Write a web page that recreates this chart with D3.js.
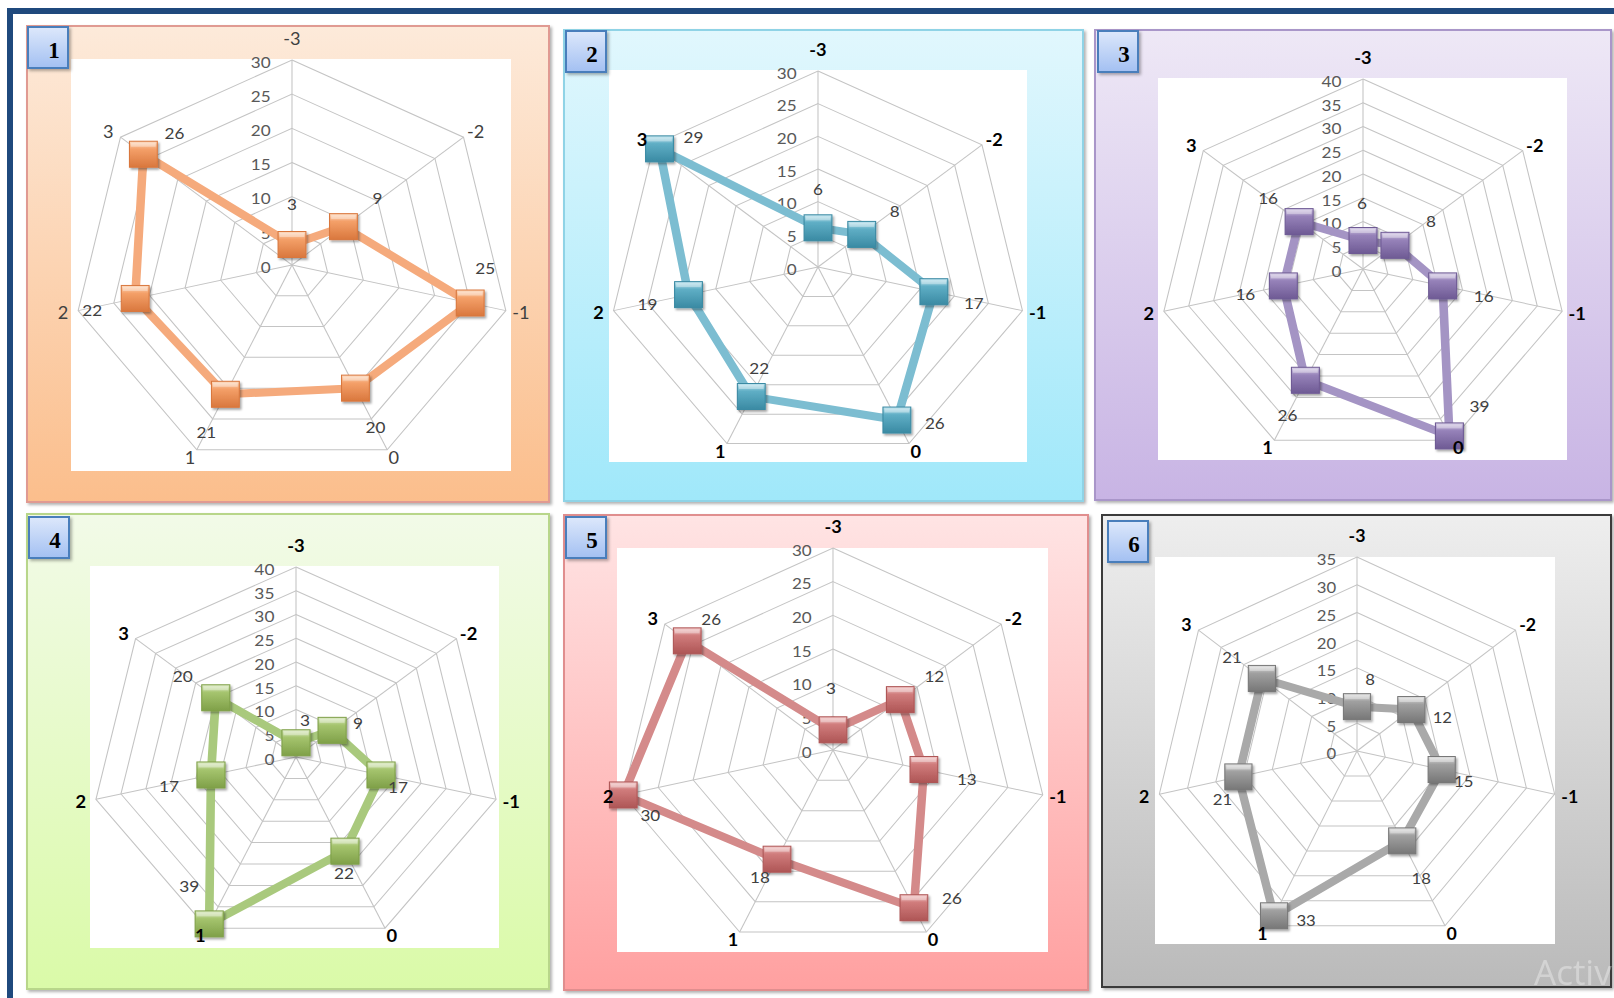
<!DOCTYPE html>
<html><head><meta charset="utf-8">
<script src="https://cdn.jsdelivr.net/npm/d3@7"></script>
<style>html,body{margin:0;padding:0;background:#fff;overflow:hidden}</style>
</head><body><svg id="c" width="1614" height="998"></svg>
<script>
// ---------- DATA ----------
const categories = ["-3", "-2", "-1", "0", "1", "2", "3"];
const series1 = [3, 9, 25, 20, 21, 22, 26];
const series2 = [6, 8, 17, 26, 22, 19, 29];
const series3 = [6, 8, 16, 39, 26, 16, 16];
const series4 = [3, 9, 17, 22, 39, 17, 20];
const series5 = [3, 12, 13, 26, 18, 30, 26];
const series6 = [8, 12, 15, 18, 33, 21, 21];
const allSeries = [series1, series2, series3, series4, series5, series6];
const axisMax = [30, 30, 40, 40, 30, 35];
const tickStep = 5;
const panelNumbers = ["1", "2", "3", "4", "5", "6"];

// ---------- LAYOUT / STYLE ----------
const layout = [
  {panel:[27,26,522,476], plot:[71,59,440,412], box:[27,26], c:[292,265], r:205, sx:1.07,
   bg:["#FDEADA","#FBBE8C"], border:"#E09A92", line:"#F5AA7C", mk:["#FDDCC2","#F4A069","#D9773D"],
   catBold:false, catColor:"#404040",
   nudge:[[0,-40],[34,-28],[15,-35],[20,39],[-19,38],[-43,12],[31,-21]]},
  {panel:[564,30,519,471], plot:[609,70,418,392], box:[565,30], c:[818,267], r:196, sx:1.07,
   bg:["#E1F7FD","#A0E8FA"], border:"#8FD3E6", line:"#7CBDD1", mk:["#C4E6F0","#5FAEC5","#3A8AA3"],
   catBold:true, catColor:"#000",
   nudge:[[0,-39],[33,-23],[40,11],[38,3],[8,-28],[-41,10],[34,-12]]},
  {panel:[1095,30,516,470], plot:[1158,78,409,382], box:[1097,30], c:[1363,269], r:190, sx:1.075,
   bg:["#EEE8F6","#C8B4E4"], border:"#A996C9", line:"#A494C4", mk:["#D9D0E8","#9682B9","#6E5A94"],
   catBold:true, catColor:"#000",
   nudge:[[-1,-37],[36,-24],[41,10],[30,-30],[-18,35],[-38,8],[-31,-23]]},
  {panel:[27,514,522,475], plot:[90,566,409,382], box:[28,516], c:[296,757], r:190, sx:1.08,
   bg:["#F2FAE8","#DAFAA8"], border:"#B8D68A", line:"#A9C97D", mk:["#DDEBC6","#A5C46E","#7FA048"],
   catBold:true, catColor:"#000",
   nudge:[[9,-23],[26,-7],[17,12],[-1,22],[-20,-38],[-42,11],[-33,-22]]},
  {panel:[564,515,524,475], plot:[617,548,431,404], box:[565,516], c:[833,750], r:202, sx:1.065,
   bg:["#FFE4E4","#FFA0A0"], border:"#E08E8E", line:"#D48A8A", mk:["#F3CACA","#D07C7C","#AE5555"],
   catBold:true, catColor:"#000",
   nudge:[[-2,-42],[34,-23],[43,10],[38,-10],[-17,18],[27,20],[24,-22]]},
  {panel:[1102,515,509,472], plot:[1155,557,400,387], box:[1107,520], c:[1357,751], r:194, sx:1.045,
   bg:["#EEEEEE","#BABABA"], border:"#3A3A3A", line:"#A9A9A9", mk:["#E2E2E2","#A0A0A0","#777777"],
   catBold:true, catColor:"#000",
   nudge:[[13,-28],[31,7],[22,11],[19,37],[32,4],[-16,22],[-30,-22]]}
];

// category label placement relative to outer vertex (screen px)
const catDx = s => 15.5 * s;
const catDy = c => c > 0.9 ? -21 : (c > 0.3 ? -5 : (c > -0.5 ? 2 : 8));

const svg = d3.select("#c");
const defs = svg.append("defs");

const sh = defs.append("filter").attr("id","shadow").attr("x","-10%").attr("y","-10%").attr("width","130%").attr("height","130%");
sh.append("feDropShadow").attr("dx",2).attr("dy",2).attr("stdDeviation",1.5).attr("flood-color","#000").attr("flood-opacity",0.3);
const sh2 = defs.append("filter").attr("id","mshadow").attr("x","-30%").attr("y","-30%").attr("width","170%").attr("height","170%");
sh2.append("feDropShadow").attr("dx",1.5).attr("dy",2).attr("stdDeviation",1.2).attr("flood-color","#000").attr("flood-opacity",0.35);

const boxG = defs.append("linearGradient").attr("id","boxg").attr("x1",0).attr("y1",0).attr("x2",0).attr("y2",1);
boxG.append("stop").attr("offset","0%").attr("stop-color","#DDE8FB");
boxG.append("stop").attr("offset","100%").attr("stop-color","#A3C0F2");

// outer dark blue frame
svg.append("rect").attr("x",7).attr("y",8).attr("width",1607).attr("height",6).attr("fill","#1F497D");
svg.append("rect").attr("x",7).attr("y",8).attr("width",6).attr("height",990).attr("fill","#1F497D");

const N = categories.length;
const ang = i => i * 2 * Math.PI / N;

layout.forEach((L, k) => {
  const data = allSeries[k];
  const max = axisMax[k];
  const ticks = d3.range(0, max + 1, tickStep);

  const bg = defs.append("linearGradient").attr("id","bg"+k).attr("x1",0).attr("y1",0).attr("x2",0).attr("y2",1);
  bg.append("stop").attr("offset","0%").attr("stop-color",L.bg[0]);
  bg.append("stop").attr("offset","100%").attr("stop-color",L.bg[1]);
  const mg = defs.append("linearGradient").attr("id","mk"+k).attr("x1",0).attr("y1",0).attr("x2",0).attr("y2",1);
  mg.append("stop").attr("offset","0%").attr("stop-color",L.mk[0]);
  mg.append("stop").attr("offset","30%").attr("stop-color",L.mk[1]);
  mg.append("stop").attr("offset","100%").attr("stop-color",L.mk[2]);

  const [px,py,pw,ph] = L.panel;
  svg.append("rect").attr("x",px).attr("y",py).attr("width",pw).attr("height",ph)
    .attr("fill","url(#bg"+k+")").attr("stroke",L.border).attr("stroke-width",2).attr("filter","url(#shadow)");
  const [wx,wy,ww,wh] = L.plot;
  svg.append("rect").attr("x",wx).attr("y",wy).attr("width",ww).attr("height",wh).attr("fill","#fff");

  // number box
  const bx = L.box[0], by = L.box[1];
  svg.append("rect").attr("x",bx+1).attr("y",by+1).attr("width",40).attr("height",41)
    .attr("fill","url(#boxg)").attr("stroke","#4A7EBB").attr("stroke-width",2).attr("filter","url(#shadow)");
  svg.append("text").attr("x",bx+27).attr("y",by+32).attr("text-anchor","middle")
    .attr("font-family","'Liberation Serif', 'DejaVu Serif', serif").attr("font-weight","bold")
    .attr("font-size",23).attr("fill","#000").text(panelNumbers[k]);

  const g = svg.append("g").attr("transform",`translate(${L.c[0]},${L.c[1]}) scale(${L.sx},1)`);
  const rS = d3.scaleLinear().domain([0, max]).range([0, L.r]);

  const ring = d3.lineRadial().angle((d,i) => ang(i)).radius(d => rS(d)).curve(d3.curveLinearClosed);

  // grid rings
  g.selectAll(".ring").data(ticks.filter(t => t > 0)).enter().append("path")
    .attr("d", t => ring(categories.map(() => t)))
    .attr("fill","none").attr("stroke","#C4C4C4").attr("stroke-width",1);
  // spokes
  g.selectAll(".spoke").data(categories).enter().append("line")
    .attr("x1",0).attr("y1",0)
    .attr("x2",(d,i) => rS(max) * Math.sin(ang(i)))
    .attr("y2",(d,i) => -rS(max) * Math.cos(ang(i)))
    .attr("stroke","#C4C4C4").attr("stroke-width",1);

  // value-axis tick labels
  g.selectAll(".tick").data(ticks).enter().append("text")
    .attr("x",-20).attr("y", t => -rS(t) + 2)
    .attr("text-anchor","end").attr("dominant-baseline","central")
    .attr("font-family","Lato, 'Open Sans', sans-serif").attr("font-size",16).attr("fill","#595959")
    .text(t => t);

  // data line
  g.append("path").attr("d", ring(data)).attr("fill","none")
    .attr("stroke",L.line).attr("stroke-width",8).attr("stroke-linejoin","round");

  const pt = (v,i) => [rS(v) * Math.sin(ang(i)), -rS(v) * Math.cos(ang(i))];
  const ms = 26;
  const mk = g.selectAll(".mk").data(data).enter().append("g")
    .attr("transform",(v,i) => `translate(${pt(v,i)[0]},${pt(v,i)[1]})`);
  mk.append("rect").attr("x",-ms/2).attr("y",-ms/2).attr("width",ms).attr("height",ms)
    .attr("fill","url(#mk"+k+")").attr("stroke",L.mk[2]).attr("stroke-width",1).attr("filter","url(#mshadow)");
  mk.append("rect").attr("x",-ms/2+1.5).attr("y",-ms/2+1.5).attr("width",ms-3).attr("height",4)
    .attr("fill","#fff").attr("opacity",0.35);

  // data labels
  g.selectAll(".dl").data(data).enter().append("text")
    .attr("x",(v,i) => pt(v,i)[0] + L.nudge[i][0] / L.sx)
    .attr("y",(v,i) => pt(v,i)[1] + L.nudge[i][1])
    .attr("text-anchor","middle").attr("dominant-baseline","central")
    .attr("font-family","Lato, 'Open Sans', sans-serif").attr("font-size",16).attr("fill","#404040")
    .text(v => v);

  // category labels (on top of markers, as in the reference)
  g.selectAll(".cat").data(categories).enter().append("text")
    .attr("x",(d,i) => rS(max) * Math.sin(ang(i)) + catDx(Math.sin(ang(i))) / L.sx)
    .attr("y",(d,i) => -rS(max) * Math.cos(ang(i)) + catDy(Math.cos(ang(i))))
    .attr("text-anchor","middle").attr("dominant-baseline","central")
    .attr("font-family","Lato, 'Open Sans', sans-serif").attr("font-size",17)
    .attr("font-weight", L.catBold ? "bold" : "normal").attr("fill", L.catColor)
    .text(d => d);
});

// watermark (cut at the right edge in the reference)
svg.append("text").attr("x",1534).attr("y",985).attr("font-family","'Open Sans', sans-serif")
  .attr("font-size",35).attr("fill","#ffffff").attr("opacity",0.35).text("Activ");
</script></body></html>
